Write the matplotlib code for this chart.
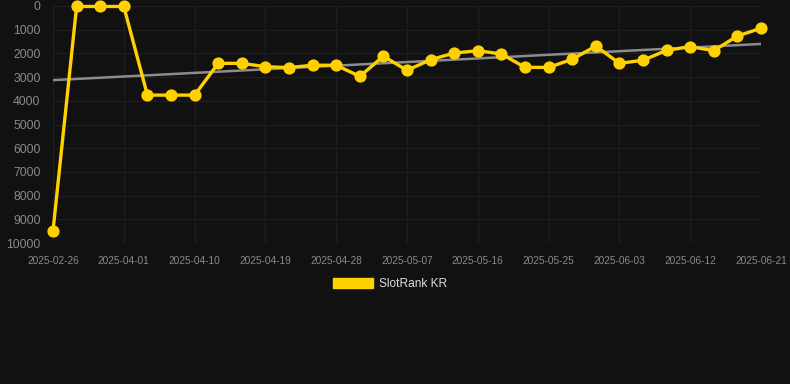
import numpy as np
import matplotlib
matplotlib.use("Agg")
import matplotlib.pyplot as plt
from matplotlib.patches import Patch

plt.rcParams['font.family'] = ['Liberation Sans', 'DejaVu Sans']

tick_labels = ["2025-02-26", "2025-04-01", "2025-04-10", "2025-04-19", "2025-04-28",
               "2025-05-07", "2025-05-16", "2025-05-25", "2025-06-03", "2025-06-12",
               "2025-06-21"]
rank = [9490, 20, 20, 20, 3760, 3760, 3760, 2420, 2420, 2560, 2600, 2500, 2500,
        2970, 2120, 2715, 2265, 1985, 1885, 2025, 2590, 2590, 2250, 1690, 2420,
        2290, 1870, 1715, 1885, 1265, 940]
series_name = "SlotRank KR"

BG = "#111111"
GOLD = "#FFD100"
GRID = "#1d1d1d"
TXT = "#8a8a8a"

W, H = 790, 384
fig = plt.figure(figsize=(W / 100, H / 100), dpi=100, facecolor=BG)
ax = fig.add_axes([53 / W, (H - 243) / H, (761 - 53) / W, (243 - 6) / H])
ax.set_facecolor(BG)

x = np.arange(len(rank))
y = np.array(rank, dtype=float)

# trend line (linear regression)
k, b = np.polyfit(x, y, 1)
ax.plot(x, k * x + b, color="#8c8c8c", lw=1.8, zorder=2)

ax.plot(x, y, color=GOLD, lw=2.4, marker="o", ms=7.8, markerfacecolor=GOLD,
        markeredgecolor=GOLD, zorder=3, clip_on=False)

ax.set_xlim(0, len(rank) - 1)
ax.set_ylim(10000, 0)
ax.set_yticks(np.arange(0, 10001, 1000))
ax.set_yticklabels([str(v) for v in range(0, 10001, 1000)])
ax.set_xticks(np.arange(0, len(rank), 3))
ax.set_xticklabels(tick_labels)

ax.grid(True, color=GRID, lw=1)
ax.set_axisbelow(True)
for s in ax.spines.values():
    s.set_visible(False)
ax.tick_params(axis='y', length=0, pad=9, labelsize=8.8, labelcolor=TXT)
ax.tick_params(axis='x', length=0, pad=9, labelsize=7.3, labelcolor=TXT)

fig.legend(handles=[Patch(facecolor=GOLD, edgecolor=GOLD, label=series_name)],
           loc="center", bbox_to_anchor=(390 / W, 1 - 284 / H), frameon=False,
           fontsize=8.6, labelcolor="#dddddd", handlelength=3.3, handleheight=1.0,
           handletextpad=0.5)

fig.savefig("out.png", dpi=100, facecolor=BG)
